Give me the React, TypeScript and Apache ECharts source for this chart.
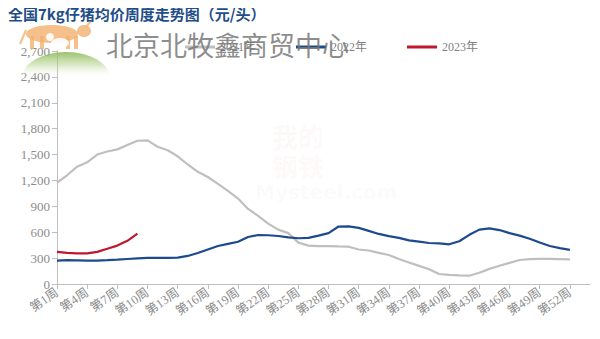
import React, { useEffect, useRef } from "react";
import * as echarts from "echarts";

const weeks: string[] = Array.from({ length: 54 }, (_, i) => `第${i + 1}周`);

const s2021: number[] = [
  1174, 1260, 1360, 1410, 1500, 1535, 1560, 1610, 1660, 1665,
  1590, 1550, 1480, 1385, 1300, 1240, 1160, 1080, 990, 870,
  790, 700, 630, 590, 480, 445, 440, 440, 435, 432,
  400, 388, 360, 336, 290, 250, 210, 170, 116, 106,
  100, 96, 130, 175, 212, 245, 278, 288, 290, 290,
  288, 286,
];

const s2022: number[] = [
  272, 276, 274, 270, 272, 276, 282, 290, 298, 303,
  303, 303, 305, 325, 360, 400, 440, 465, 490, 545,
  568, 565, 556, 540, 530, 535, 560, 590, 666, 668,
  650, 615, 580, 555, 535, 505, 490, 475, 470, 460,
  495, 570, 630, 645, 625, 590, 560, 525, 480, 440,
  415, 395,
];

const s2023: number[] = [372, 360, 355, 355, 372, 408, 445, 500, 585];

const seriesNames: string[] = ["2021年", "2022年", "2023年"];
const seriesColors: string[] = ["#BFBFBF", "#1B4A8F", "#C0182C"];

const titleText = "全国7kg仔猪均价周度走势图（元/头）";
const watermarkText = "北京北牧鑫商贸中心";

export default function App() {
  const ref = useRef<HTMLDivElement>(null);

  useEffect(() => {
    if (!ref.current) return;
    const chart = echarts.init(ref.current, null, { renderer: "svg" });
    const data = [s2021, s2022, s2023];
    const orange = "rgba(243,176,110,0.8)";
    chart.setOption({
      animation: false,
      backgroundColor: "#ffffff",
      grid: { left: 57, right: 10, top: 51, bottom: 55, containLabel: false },
      legend: {
        data: seriesNames,
        left: 180,
        top: 36,
        itemWidth: 30,
        itemHeight: 3,
        itemGap: 40,
        icon: "rect",
        textStyle: { color: "#7f7f7f", fontFamily: "Liberation Serif, Noto Sans CJK SC", fontSize: 12 },
      },
      xAxis: {
        type: "category",
        data: weeks,
        boundaryGap: false,
        axisLine: { lineStyle: { color: "#BFBFBF", width: 1 } },
        axisTick: { show: true, interval: 2, length: 5, lineStyle: { color: "#BFBFBF" } },
        axisLabel: {
          interval: 2,
          rotate: 35,
          color: "#8c8c8c",
          fontSize: 12.5,
          margin: 7,
          fontFamily: "Liberation Serif, Noto Sans CJK SC",
        },
        splitLine: { show: false },
      },
      yAxis: {
        type: "value",
        min: 0,
        max: 2700,
        interval: 300,
        axisLine: { show: true, lineStyle: { color: "#BFBFBF", width: 1 } },
        axisTick: { show: true, length: 5, lineStyle: { color: "#BFBFBF" } },
        axisLabel: {
          color: "#8c8c8c",
          fontSize: 13,
          margin: 7,
          fontFamily: "Liberation Serif",
          formatter: (v: number) => v.toLocaleString("en-US"),
        },
        splitLine: { show: false },
      },
      graphic: [
        // logo: green hill
        {
          type: "ellipse",
          shape: { cx: 66, cy: 78, rx: 44, ry: 26 },
          style: {
            fill: new echarts.graphic.LinearGradient(0, 0, 0, 1, [
              { offset: 0, color: "rgba(140,186,90,0.9)" },
              { offset: 0.25, color: "rgba(180,210,140,0.5)" },
              { offset: 0.5, color: "rgba(255,255,255,0)" },
              { offset: 1, color: "rgba(255,255,255,0)" },
            ]),
          },
          z: 1,
        },
        // logo: cow
        { type: "ellipse", shape: { cx: 52, cy: 34, rx: 26, ry: 9 }, style: { fill: orange }, z: 1 },
        { type: "ellipse", shape: { cx: 84, cy: 31, rx: 7, ry: 6 }, style: { fill: orange }, z: 1 },
        { type: "rect", shape: { x: 30, y: 36, width: 4, height: 13 }, style: { fill: orange }, z: 1 },
        { type: "rect", shape: { x: 40, y: 36, width: 4, height: 13 }, style: { fill: orange }, z: 1 },
        { type: "rect", shape: { x: 66, y: 36, width: 4, height: 13 }, style: { fill: orange }, z: 1 },
        { type: "rect", shape: { x: 74, y: 36, width: 4, height: 13 }, style: { fill: orange }, z: 1 },
        { type: "line", shape: { x1: 86, y1: 27, x2: 92, y2: 20 }, style: { stroke: orange, lineWidth: 2 }, z: 1 },
        { type: "line", shape: { x1: 26, y1: 30, x2: 20, y2: 44 }, style: { stroke: orange, lineWidth: 2 }, z: 1 },
        // white animals
        { type: "ellipse", shape: { cx: 60, cy: 43, rx: 9, ry: 5 }, style: { fill: "rgba(255,255,255,0.9)" }, z: 2 },
        { type: "circle", shape: { cx: 50, cy: 37, r: 4 }, style: { fill: "rgba(255,255,255,0.9)" }, z: 2 },
        // Mysteel watermark
        {
          type: "text",
          left: 272,
          top: 120,
          style: { text: "我的\n钢铁", fill: "rgba(200,90,90,0.05)", font: "bold 26px 'Noto Sans CJK SC'", lineHeight: 30 },
          z: 1,
        },
        {
          type: "text",
          left: 255,
          top: 182,
          style: { text: "Mysteel.com", fill: "rgba(150,150,150,0.05)", font: "bold 20px 'DejaVu Sans'" },
          z: 1,
        },
        // title
        {
          type: "text",
          left: 8,
          top: 6,
          style: { text: titleText, fill: "#1F4E89", font: "bold 15px 'Noto Sans CJK SC'" },
          z: 10,
        },
        // big watermark text
        {
          type: "text",
          left: 106,
          top: 31,
          style: { text: watermarkText, fill: "rgba(120,120,120,0.85)", font: "27px 'Noto Sans CJK SC'" },
          z: 100,
        },
      ],
      series: data.map((d, i) => ({
        name: seriesNames[i],
        type: "line",
        data: d,
        showSymbol: false,
        symbol: "none",
        smooth: false,
        lineStyle: { color: seriesColors[i], width: 2.2 },
        itemStyle: { color: seriesColors[i] },
        z: 2 + i,
      })),
    });
    return () => chart.dispose();
  }, []);

  return <div ref={ref} style={{ width: 600, height: 339, margin: -8 }} />;
}
